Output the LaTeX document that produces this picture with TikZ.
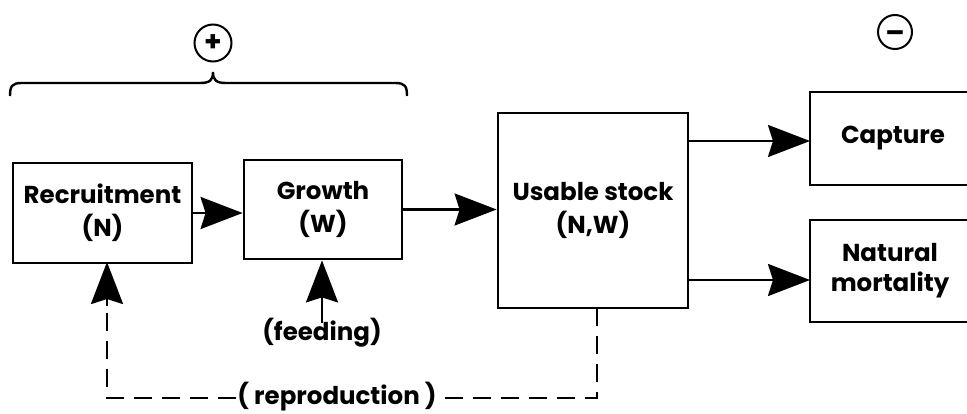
\documentclass[tikz,border=0pt]{standalone}
\usepackage{fontspec}
\setmainfont{Poppins}
\usetikzlibrary{arrows.meta}
\begin{document}
\begin{tikzpicture}[x=1pt,y=-1pt,
  box/.style={draw, line width=2.8pt, align=center, inner sep=0pt,
    font=\fontsize{24.5}{33}\selectfont\bfseries},
  lbl/.style={inner sep=1pt, font=\fontsize{24.5}{33}\selectfont\bfseries},
  tip/.style={-{Stealth[length=42pt,width=32pt,inset=5pt]}},
  flow/.style={line width=2.6pt, tip},
  fback/.style={line width=2.6pt, dash pattern=on 18pt off 10pt},
  sign/.style={circle, draw, line width=2pt, inner sep=0pt,
    font=\fontsize{28}{28}\selectfont\bfseries}]
\clip (0,0) rectangle (967,414);

% boxes
\node[box, minimum width=179pt, minimum height=100pt] (rec) at (102.5,213) {Recruitment\\(N)};
\node[box, minimum width=158pt, minimum height=99pt] (grow) at (323,209.5) {Growth\\(W)};
\node[box, minimum width=190pt, minimum height=195pt] (use) at (593,210.5) {Usable stock\\(N,W)};
\node[box, minimum width=166pt, minimum height=93pt] (cap) at (893,138.5) {Capture};
\node[box, minimum width=160pt, minimum height=102pt, font=\fontsize{24.5}{30}\selectfont\bfseries] (nat) at (890,271) {Natural\\mortality};

% signs
\node[sign, minimum size=37pt] (plus) at (213,43) {+};
\node[sign, minimum size=34pt] (minus) at (895,32) {};
\node[inner sep=0pt, font=\fontsize{28}{28}\selectfont\bfseries] at ([yshift=-5pt]minus.center) {--};

% brace over the growth stage
\draw[line width=2.4pt] (10,96) .. controls (10,86) and (12,83) .. (22,83) -- (200,83)
  .. controls (210,83) and (213,80) .. (213,72)
  .. controls (213,80) and (216,83) .. (226,83) -- (395,83)
  .. controls (405,83) and (407,86) .. (407,96);

% main flow
\draw[flow] (rec.east) -- (rec.east -| grow.west);
\draw[flow] (grow.east) -- (grow.east -| use.west);
\coordinate (capin) at (810,141);
\coordinate (natin) at (810,280);
\draw[flow] (use.east |- capin) -- (capin);
\draw[flow] (use.east |- natin) -- (natin);

% feeding
\node[lbl] (feed) at (322,333) {(feeding)};
\draw[flow] ([yshift=-6pt]feed.north) -- (feed.north |- grow.south);

% reproduction feedback
\node[lbl] (repro) at (337,397) {( reproduction )};
\coordinate (rtop) at (597,308);
\coordinate (rcor) at (597,398);
\coordinate (lcor) at (107,398);
\coordinate (lend) at (107,262);
\draw[fback] (rtop) -- (rcor) -- (repro.east |- rcor);
\draw[fback] (repro.west |- lcor) -- (lcor) -- (107,300);
\draw[flow] (107,306) -- (lend);
\end{tikzpicture}
\end{document}
